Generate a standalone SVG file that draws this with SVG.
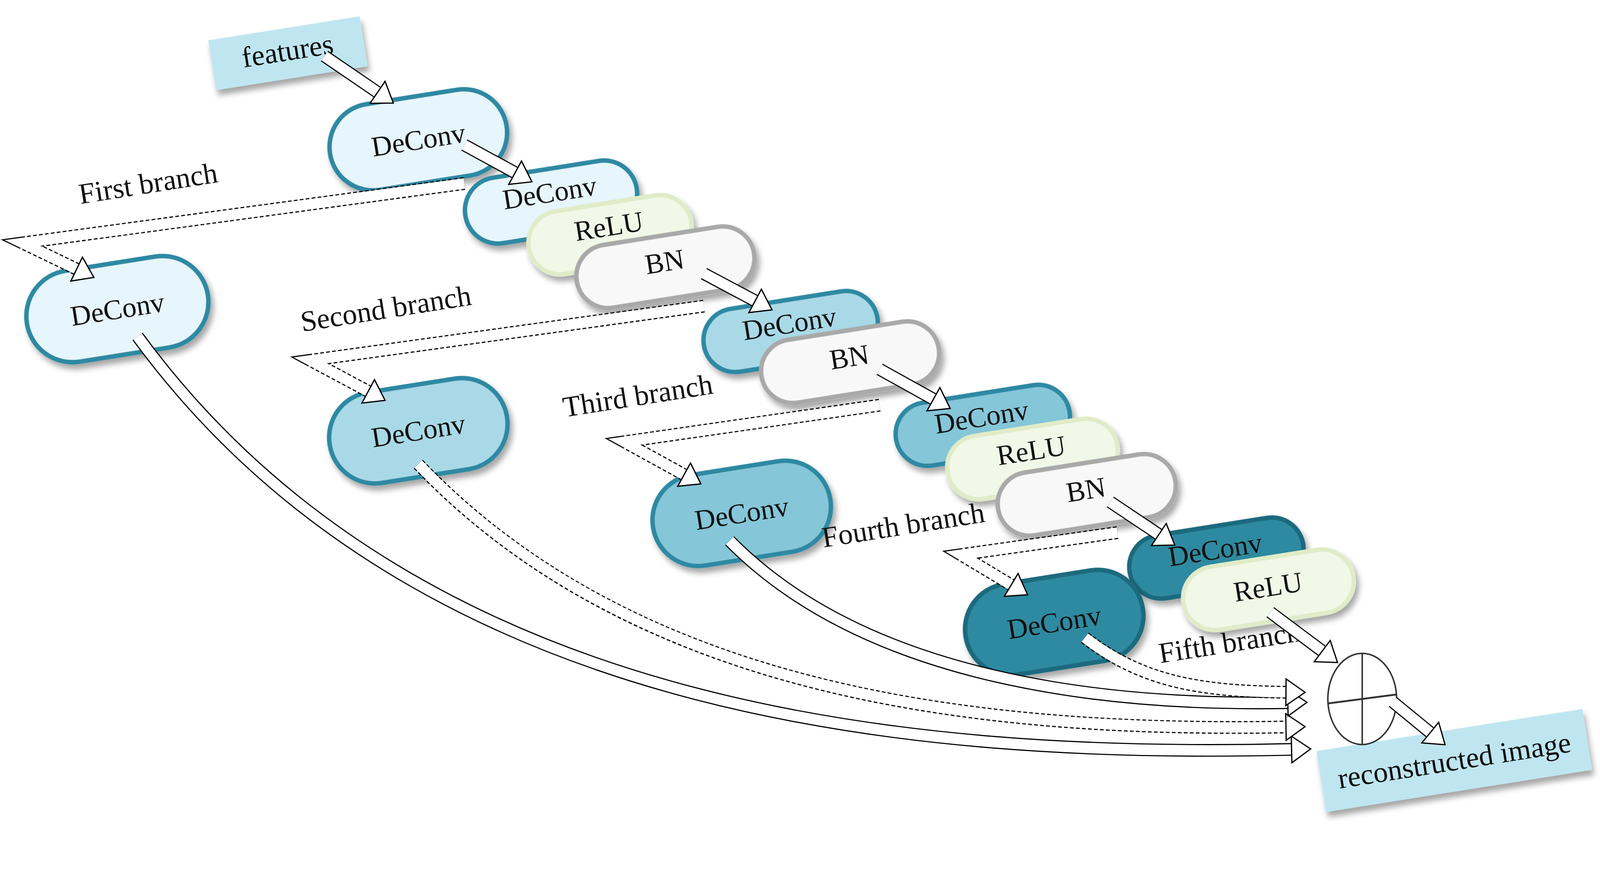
<svg xmlns="http://www.w3.org/2000/svg" width="4280" height="2225" viewBox="0 0 4280 2225">
<defs>
<filter id="sh" x="-20%" y="-20%" width="140%" height="150%"><feDropShadow dx="6" dy="14" stdDeviation="8" flood-color="#000" flood-opacity="0.35"/></filter>
<marker id="ah" markerUnits="userSpaceOnUse" markerWidth="60" markerHeight="80" viewBox="-2 -36 52 72" refX="0" refY="0" orient="auto"><polygon points="0,-32 46,0 0,32" fill="#fff" stroke="#000" stroke-width="3"/></marker>
</defs>
<style>
text{font-family:"Liberation Serif","Times New Roman",serif;fill:#111;text-anchor:middle;dominant-baseline:central}
.lbl{font-size:78px}
.nt{font-size:76px}
.p{stroke-width:12;filter:url(#sh)}
.dc1{fill:#e6f6fc;stroke:#2e89a3}
.dc2{fill:#a9d9e7;stroke:#2e89a3}
.dc3{fill:#85c6d8;stroke:#2e89a3}
.dc4{fill:#2e8aa0;stroke:#1d6a7e}
.re{fill:#f2f8e8;stroke:#e0ecc8}
.bn{fill:#f8f8f8;stroke:#a9a9a9}
.ob{fill:none;stroke:#000;stroke-width:34}
.od{fill:none;stroke:#000;stroke-width:34;stroke-dasharray:10 6}
.iw{fill:none;stroke:#fff;stroke-width:28;marker-end:url(#ah)}
</style>
<g transform="scale(0.957)">
<g id="features" filter="url(#sh)"><rect x="565" y="75" width="410" height="135" fill="#bfe6f0" transform="rotate(-9 770 142)"/><text class="lbl" x="770" y="135" transform="rotate(-9 770 142)">features</text></g>
<g id="recon" filter="url(#sh)"><rect x="3530" y="1952" width="720" height="165" fill="#bfe6f0" transform="rotate(-9 3890 2034)"/><text class="lbl" x="3890" y="2034" transform="rotate(-9 3890 2034)">reconstructed image</text></g>

<g id="n1" transform="rotate(-9 1119 374)"><rect class="p dc1" x="880" y="258" width="478" height="232" rx="116"/><text class="nt" x="1119" y="374">DeConv</text></g>
<g id="n2" transform="rotate(-9 1474 540)"><rect class="p dc1" x="1242" y="452" width="464" height="177" rx="88"/><text class="nt" x="1474" y="515">DeConv</text></g>
<g id="n3" transform="rotate(-9 1632 628)"><rect class="p re" x="1412" y="543" width="440" height="170" rx="85"/><text class="nt" x="1632" y="605">ReLU</text></g>
<g id="n4" transform="rotate(-9 1780 715)"><rect class="p bn" x="1540" y="630" width="480" height="170" rx="85"/><text class="nt" x="1780" y="700">BN</text></g>
<g id="b1" transform="rotate(-9 314 827)"><rect class="p dc1" x="69" y="704" width="490" height="246" rx="123"/><text class="nt" x="314" y="827">DeConv</text></g>
<g id="n5" transform="rotate(-9 2115 887)"><rect class="p dc2" x="1880" y="802" width="470" height="170" rx="85"/><text class="nt" x="2115" y="865">DeConv</text></g>
<g id="n6" transform="rotate(-9 2274 969)"><rect class="p bn" x="2034" y="884" width="480" height="170" rx="85"/><text class="nt" x="2274" y="955">BN</text></g>
<g id="b2" transform="rotate(-9 1119 1152)"><rect class="p dc2" x="879" y="1030" width="480" height="245" rx="122"/><text class="nt" x="1119" y="1152">DeConv</text></g>
<g id="n7" transform="rotate(-9 2629 1138)"><rect class="p dc3" x="2394" y="1053" width="470" height="170" rx="85"/><text class="nt" x="2629" y="1115">DeConv</text></g>
<g id="n8" transform="rotate(-9 2762 1228)"><rect class="p re" x="2532" y="1143" width="460" height="170" rx="85"/><text class="nt" x="2762" y="1205">ReLU</text></g>
<g id="n9" transform="rotate(-9 2907 1324)"><rect class="p bn" x="2667" y="1239" width="480" height="170" rx="85"/><text class="nt" x="2907" y="1310">BN</text></g>
<g id="b3" transform="rotate(-9 1984 1373)"><rect class="p dc3" x="1744" y="1251" width="480" height="245" rx="122"/><text class="nt" x="1984" y="1373">DeConv</text></g>
<g id="n10" transform="rotate(-9 3254 1493)"><rect class="p dc4" x="3019" y="1408" width="470" height="170" rx="85"/><text class="nt" x="3254" y="1470">DeConv</text></g>
<g id="n11" transform="rotate(-9 3393 1578)"><rect class="p re" x="3163" y="1493" width="460" height="170" rx="85"/><text class="nt" x="3393" y="1570">ReLU</text></g>
<g id="b5" transform="rotate(-9 2820 1665)"><rect class="p dc4" x="2580" y="1543" width="480" height="245" rx="122"/><text class="nt" x="2820" y="1665">DeConv</text></g>

<g id="labels">
<text class="lbl" x="396" y="490" transform="rotate(-9 396 490)">First branch</text>
<text class="lbl" x="1032" y="825" transform="rotate(-9 1032 825)">Second branch</text>
<text class="lbl" x="1706" y="1058" transform="rotate(-9 1706 1058)">Third branch</text>
<text class="lbl" x="2416" y="1404" transform="rotate(-9 2416 1404)">Fourth branch</text>
<text class="lbl" x="3289" y="1718" transform="rotate(-9 3289 1718)">Fifth branch</text>
</g>

<g id="sum"><ellipse cx="3644" cy="1870" rx="92" ry="122" fill="#fff" stroke="#333" stroke-width="4"/><line x1="3644" y1="1748" x2="3644" y2="1992" stroke="#333" stroke-width="4"/><line x1="3552" y1="1882" x2="3736" y2="1858" stroke="#333" stroke-width="5"/></g>

<g id="connectors">
<path class="ob" d="M868,150 L1010,247"/><path class="iw" d="M868,150 L1010,247"/>
<path class="ob" d="M1242,388 L1378,462"/><path class="iw" d="M1242,388 L1378,462"/>
<path class="ob" d="M1883,732 L2020,805"/><path class="iw" d="M1883,732 L2020,805"/>
<path class="ob" d="M2353,988 L2497,1068"/><path class="iw" d="M2353,988 L2497,1068"/>
<path class="ob" d="M2970,1343 L3100,1430"/><path class="iw" d="M2970,1343 L3100,1430"/>
<path class="ob" d="M3398,1638 L3537,1742"/><path class="iw" d="M3398,1638 L3537,1742"/>
<path class="ob" d="M3726,1878 L3826,1960"/><path class="iw" d="M3726,1878 L3826,1960"/>

<path class="od" d="M1242,491 L60,650 L205,720"/><path class="iw" d="M1242,491 L60,650 L205,720"/>
<path class="od" d="M1883,819 L830,964 L985,1047"/><path class="iw" d="M1883,819 L830,964 L985,1047"/>
<path class="od" d="M2353,1084 L1670,1182 L1830,1270"/><path class="iw" d="M2353,1084 L1670,1182 L1830,1270"/>
<path class="od" d="M2989,1425 L2570,1484 L2705,1565"/><path class="iw" d="M2989,1425 L2570,1484 L2705,1565"/>

<path class="ob" d="M368,900 C1100,1900 2400,2030 3455,2005"/><path class="iw" d="M368,900 C1100,1900 2400,2030 3455,2005"/>
<path class="od" d="M1119,1242 C1700,1850 2600,1960 3440,1945"/><path class="iw" d="M1119,1242 C1700,1850 2600,1960 3440,1945"/>
<path class="ob" d="M1952,1447 C2300,1800 2900,1890 3445,1880"/><path class="iw" d="M1952,1447 C2300,1800 2900,1890 3445,1880"/>
<path class="od" d="M2902,1706 C3050,1820 3200,1850 3440,1852"/><path class="iw" d="M2902,1706 C3050,1820 3200,1850 3440,1852"/>
</g>
</g>
</svg>
